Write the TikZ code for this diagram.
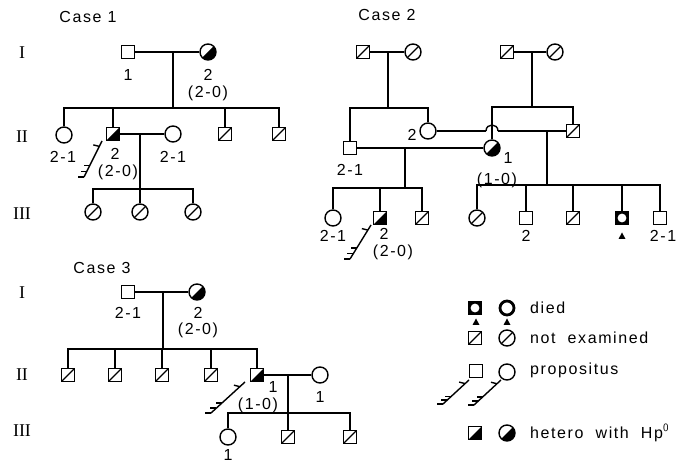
\documentclass[tikz,border=0pt]{standalone}
\usepackage{fontspec}
\setmainfont{Liberation Sans}
\newfontfamily\labfont[LetterSpace=10]{Liberation Sans}
\newfontfamily\romfont{Liberation Serif}
\usetikzlibrary{calc}
\tikzset{
  ln/.style={line width=1.4pt},
  sym/.style={draw, line width=1.4pt, inner sep=0pt, fill=white},
  sq/.style={sym, rectangle, minimum size=13pt},
  ci/.style={sym, circle, minimum size=16pt},
  nx/.style={path picture={\draw[line width=1.3pt] (path picture bounding box.south west) -- (path picture bounding box.north east);}},
  het/.style={path picture={\fill[black] (path picture bounding box.south west) -- (path picture bounding box.south east) -- (path picture bounding box.north east) -- cycle;}},
  diedsq/.style={sym, rectangle, minimum size=13pt, fill=black, path picture={\fill[white] (path picture bounding box.center) circle (4.4pt);}},
  diedci/.style={draw, circle, line width=2.8pt, minimum size=14pt, inner sep=0pt},
  lab/.style={font=\labfont\fontsize{16}{16}\selectfont, inner sep=0pt},
  rom/.style={font=\romfont\fontsize{18}{18}\selectfont, inner sep=0pt},
}
\newcommand\propo[2]{%
  \draw[ln] (#1) -- (#2);
  \draw[ln] ($(#1)!0.15!(#2)$) -- ++(-6,-1.5);
  \foreach \t in {0.68,0.84,1} \draw[ln] ($(#1)!\t!(#2)$) -- ++(-6,0);
}
\newcommand\tri[1]{\fill ($(#1)+(-3.5,3)$) -- ($(#1)+(3.5,3)$) -- ($(#1)+(0,-3.5)$) -- cycle;}
\begin{document}
\begin{tikzpicture}[x=1pt,y=-1pt]
\useasboundingbox (0,0) rectangle (678,465);

% ================= Case 1 =================
\node[lab] (t1) at (88,17) {Case 1};
\node[rom] (r1a) at (22,53) {I};
\node[rom] (r1b) at (22,137) {II};
\node[rom] (r1c) at (22,214) {III};

\coordinate (m1) at (173,52);
\coordinate (s1) at (173,108);
\coordinate (m2) at (140,134);
\coordinate (s2) at (140,189);

\node[sq] (a1) at (128,52) {};
\node[ci, het] (a2) at (208,52) {};
\draw[ln] (a1) -- (a2);
\draw[ln] (m1) -- (s1);

\node[ci] (a3) at (64,135) {};
\node[sq, het] (a4) at (113,134) {};
\node[sq, nx] (a5) at (225,134) {};
\node[sq, nx] (a6) at (279,134) {};
\node[ci] (a7) at (173,134) {};
\draw[ln] (a3.north) |- (s1) -| (a6.north);
\draw[ln] (a4.north) -- (a4.north |- s1);
\draw[ln] (a5.north) -- (a5.north |- s1);
\draw[ln] (a4) -- (a7);
\draw[ln] (m2) -- (s2);

\node[ci, nx] (a8) at (93,212) {};
\node[ci, nx] (a9) at (140,212) {};
\node[ci, nx] (a10) at (193,212) {};
\draw[ln] (a8.north) |- (s2) -| (a10.north);
\draw[ln] (a9.north) -- (s2);

\node[lab] (l1) at (128,75) {1};
\node[lab] (l2) at (208,75) {2};
\node[lab] (l3) at (208,93) {(2-0)};
\node[lab] (l4) at (63,157) {2-1};
\node[lab] (l5) at (115,154) {2};
\node[lab] (l6) at (118,172) {(2-0)};
\node[lab] (l7) at (173,157) {2-1};
\coordinate (p1a) at (102,141);
\coordinate (p1b) at (84,177);
\propo{p1a}{p1b}

% ================= Case 2 =================
\node[lab] (t2) at (387,15) {Case 2};

\coordinate (m3) at (388,52);
\coordinate (s3) at (388,108);
\coordinate (m4) at (532,52);
\coordinate (s4) at (532,107);
\coordinate (m5) at (405,148);
\coordinate (s5) at (405,188);
\coordinate (m6) at (547,131);
\coordinate (s6) at (547,185);
\coordinate (hl) at (486,131);
\coordinate (hr) at (498,131);

\node[sq, nx] (b1) at (363,52) {};
\node[ci, nx] (b2) at (413,52) {};
\node[sq, nx] (b3) at (507,52) {};
\node[ci, nx] (b4) at (555,52) {};
\draw[ln] (b1) -- (b2);
\draw[ln] (b3) -- (b4);
\draw[ln] (m3) -- (s3);
\draw[ln] (m4) -- (s4);

\node[sq] (b5) at (350,148) {};
\node[ci] (b6) at (428,131) {};
\node[ci, het] (b7) at (492,148) {};
\node[sq, nx] (b8) at (573,131) {};
\draw[ln] (b5.north) |- (s3) -| (b6.north);
\draw[ln] (b7.north) |- (s4) -| (b8.north);
\draw[ln] (b5) -- (b7);
\draw[ln] (b6.east) -- (hl);
\draw[ln] (hl) .. controls ($(hl)+(0,-8)$) and ($(hr)+(0,-8)$) .. (hr);
\draw[ln] (hr) -- (b8.west);
\draw[ln] (m5) -- (s5);
\draw[ln] (m6) -- (s6);

\node[ci] (b9) at (333,218) {};
\node[sq, het] (b10) at (380,218) {};
\node[sq, nx] (b11) at (422,218) {};
\draw[ln] (b9.north) |- (s5) -| (b11.north);
\draw[ln] (b10.north) -- (b10.north |- s5);

\node[ci, nx] (b12) at (477,218) {};
\node[sq] (b13) at (526,218) {};
\node[sq, nx] (b14) at (573,218) {};
\node[diedsq] (b15) at (622,218) {};
\node[sq] (b16) at (660,218) {};
\draw[ln] (b12.north) |- (s6) -| (b16.north);
\draw[ln] (b13.north) -- (b13.north |- s6);
\draw[ln] (b14.north) -- (b14.north |- s6);
\draw[ln] (b15.north) -- (b15.north |- s6);
\coordinate (tb15) at (622,236);
\tri{tb15}

\node[lab] (k1) at (412,135) {2};
\node[lab] (k2) at (350,170) {2-1};
\node[lab] (k3) at (508,158) {1};
\node[lab] (k4) at (497,180) {(1-0)};
\node[lab] (k5) at (333,236) {2-1};
\node[lab] (k6) at (384,234) {2};
\node[lab] (k7) at (393,252) {(2-0)};
\node[lab] (k8) at (526,236) {2};
\node[lab] (k9) at (663,236) {2-1};
\coordinate (p2a) at (371,225);
\coordinate (p2b) at (350,259);
\propo{p2a}{p2b}

% ================= Case 3 =================
\node[lab] (t3) at (102,268) {Case 3};
\node[rom] (r3a) at (22,293) {I};
\node[rom] (r3b) at (22,375) {II};
\node[rom] (r3c) at (22,431) {III};

\coordinate (m7) at (163,292);
\coordinate (s7) at (163,349);
\coordinate (m8) at (288,375);
\coordinate (s8) at (288,413);

\node[sq] (c1) at (128,292) {};
\node[ci, het] (c2) at (197,292) {};
\draw[ln] (c1) -- (c2);
\draw[ln] (m7) -- (s7);

\node[sq, nx] (c3) at (68,375) {};
\node[sq, nx] (c4) at (115,375) {};
\node[sq, nx] (c5) at (162,375) {};
\node[sq, nx] (c6) at (211,375) {};
\node[sq, het] (c7) at (257,375) {};
\node[ci] (c8) at (320,375) {};
\draw[ln] (c3.north) |- (s7) -| (c7.north);
\draw[ln] (c4.north) -- (c4.north |- s7);
\draw[ln] (c5.north) -- (c5.north |- s7);
\draw[ln] (c6.north) -- (c6.north |- s7);
\draw[ln] (c7) -- (c8);
\draw[ln] (m8) -- (s8);

\node[ci] (c9) at (228,437) {};
\node[sq, nx] (c10) at (288,437) {};
\node[sq, nx] (c11) at (350,437) {};
\draw[ln] (c9.north) |- (s8) -| (c11.north);
\draw[ln] (c10.north) -- (s8);

\node[lab] (n1) at (128,313) {2-1};
\node[lab] (n2) at (198,313) {2};
\node[lab] (n3) at (198,330) {(2-0)};
\node[lab] (n4) at (273,387) {1};
\node[lab] (n5) at (258,405) {(1-0)};
\node[lab] (n6) at (320,397) {1};
\node[lab] (n7) at (228,455) {1};
\coordinate (p3a) at (245,382);
\coordinate (p3b) at (211,413);
\propo{p3a}{p3b}

% ================= Legend =================
\node[diedsq] (g1) at (475,308) {};
\node[diedci] (g2) at (507,308) {};
\node[lab, anchor=west] (g3) at (530,308) {died};
\coordinate (tg1) at (476,322);
\coordinate (tg2) at (507,322);
\tri{tg1}
\tri{tg2}
\node[sq, nx] (g4) at (475,338) {};
\node[ci, nx] (g5) at (507,338) {};
\node[lab, anchor=west] (g6) at (530,338) {not\ \ examined};
\node[sq] (g7) at (476,371) {};
\node[ci] (g8) at (507,372) {};
\node[lab, anchor=west] (g9) at (530,370) {propositus};
\coordinate (p4a) at (469,380);
\coordinate (p4b) at (443,404);
\propo{p4a}{p4b}
\coordinate (p5a) at (501,380);
\coordinate (p5b) at (474,405);
\propo{p5a}{p5b}
\node[sq, het] (g10) at (475,433) {};
\node[ci, het] (g11) at (507,433) {};
\node[lab, anchor=west] (g12) at (530,433) {hetero\ \ with\ \ Hp$^{\mathsf{0}}$};
\end{tikzpicture}
\end{document}
